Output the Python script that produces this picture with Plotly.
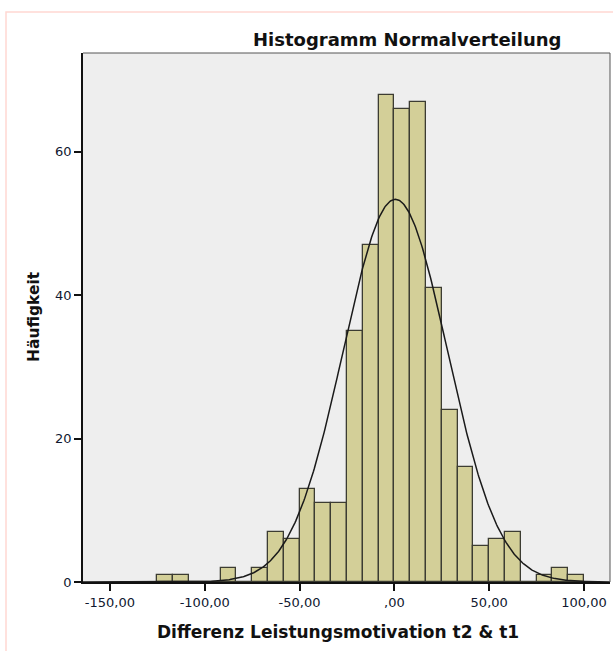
import numpy as np
import plotly.graph_objects as go

# Histogram of the difference in achievement motivation (t2 - t1)
bin_start = -125.0
bin_width = 25.0 / 3.0
counts = [1, 1, 0, 0, 2, 0, 2, 7, 6, 13, 11, 11, 35, 47, 68, 66, 67,
          41, 24, 16, 5, 6, 7, 0, 1, 2, 1]

# Parameters of the fitted normal curve
mean_diff = 0.5
sd_diff = 27.4

x_tick_vals = [-150, -100, -50, 0, 50, 100]
x_tick_text = ["-150,00", "-100,00", "-50,00", ",00", "50,00", "100,00"]
y_tick_vals = [0, 20, 40, 60]

title_text = "Histogramm Normalverteilung"
x_title = "Differenz Leistungsmotivation t2 & t1"
y_title = "Häufigkeit"

W, H = 613, 651
L, R, T, B = 83, 3, 53, 69
x_range = [-164.2, 113.7]
y_range = [0, 73.8]

centers = [bin_start + bin_width * (i + 0.5) for i in range(len(counts))]
n_total = sum(counts)

xs = np.linspace(x_range[0], x_range[1], 600)
pdf = np.exp(-0.5 * ((xs - mean_diff) / sd_diff) ** 2) / (sd_diff * np.sqrt(2 * np.pi))
curve = n_total * bin_width * pdf

fig = go.Figure()
fig.add_trace(go.Bar(
    x=centers, y=counts, width=bin_width,
    marker=dict(color="#d3cf98", line=dict(color="#3c3c32", width=1.3)),
    hoverinfo="x+y", showlegend=False,
))
fig.add_trace(go.Scatter(
    x=xs, y=curve, mode="lines",
    line=dict(color="#1a1a1a", width=1.5),
    hoverinfo="skip", showlegend=False,
))

axis_font = dict(family="DejaVu Sans", size=13, color="#101830")

fig.update_layout(
    width=W, height=H,
    margin=dict(l=L, r=R, t=T, b=B, pad=0),
    paper_bgcolor="white",
    plot_bgcolor="#eeeeee",
    bargap=0,
    xaxis=dict(
        range=x_range, tickmode="array", tickvals=x_tick_vals, ticktext=x_tick_text,
        ticks="outside", ticklen=7, tickwidth=1.5, tickcolor="#111111",
        showline=True, linecolor="#111111", linewidth=1.8,
        showgrid=False, zeroline=False, tickfont=axis_font, fixedrange=True,
    ),
    yaxis=dict(
        range=y_range, tickmode="array", tickvals=y_tick_vals,
        ticks="outside", ticklen=7, tickwidth=1.5, tickcolor="#111111",
        showline=True, linecolor="#111111", linewidth=1.8,
        showgrid=False, zeroline=False, tickfont=axis_font, fixedrange=True,
    ),
)

# thin frame on the top and right of the plotting area
fig.add_shape(type="line", xref="paper", yref="paper", x0=0, x1=1, y0=1, y1=1,
              line=dict(color="#555555", width=1))
fig.add_shape(type="line", xref="paper", yref="paper", x0=1, x1=1, y0=0, y1=1,
              line=dict(color="#555555", width=1))

# light outer border of the chart panel
pw, ph = W - L - R, H - T - B
def px_x(p):
    return (p - L) / pw
def px_y(p):
    return (H - B - p) / ph
fig.add_shape(type="rect", xref="paper", yref="paper",
              x0=px_x(6), x1=px_x(W + 20), y0=px_y(H + 20), y1=px_y(12),
              line=dict(color="#ffd8d2", width=1.5), layer="below")

fig.add_annotation(text="<b>%s</b>" % title_text, xref="paper", yref="paper",
                   x=px_x(407), y=px_y(40), showarrow=False,
                   font=dict(family="DejaVu Sans", size=18, color="#111111"),
                   xanchor="center", yanchor="middle")
fig.add_annotation(text="<b>%s</b>" % x_title, xref="paper", yref="paper",
                   x=px_x(338), y=px_y(632), showarrow=False,
                   font=dict(family="DejaVu Sans", size=17, color="#111111"),
                   xanchor="center", yanchor="middle")
fig.add_annotation(text="<b>%s</b>" % y_title, xref="paper", yref="paper",
                   x=px_x(34), y=px_y(317), showarrow=False, textangle=-90,
                   font=dict(family="DejaVu Sans", size=15.5, color="#111111"),
                   xanchor="center", yanchor="middle")

fig.write_html("out.html")
